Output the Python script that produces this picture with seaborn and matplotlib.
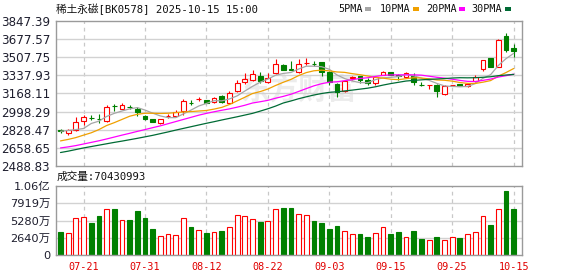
import numpy as np
import pandas as pd
import matplotlib
matplotlib.use("Agg")
import matplotlib.pyplot as plt
import seaborn as sns
from matplotlib.patches import Rectangle

# ---------------- data ----------------
dates = ["07-16", "07-17", "07-18", "07-21", "07-22", "07-23", "07-24", "07-25", "07-28", "07-29",
         "07-30", "07-31", "08-01", "08-04", "08-05", "08-06", "08-07", "08-08", "08-11", "08-12",
         "08-13", "08-14", "08-15", "08-18", "08-19", "08-20", "08-21", "08-22", "08-25", "08-26",
         "08-27", "08-28", "08-29", "09-01", "09-02", "09-03", "09-04", "09-05", "09-08", "09-09",
         "09-10", "09-11", "09-12", "09-15", "09-16", "09-17", "09-18", "09-19", "09-22", "09-23",
         "09-24", "09-25", "09-26", "09-29", "09-30", "10-09", "10-10", "10-13", "10-14", "10-15"]

opens = [2822, 2799, 2830, 2908, 2943, 2931, 2908, 3049, 3026, 3043,
         3023, 2961, 2926, 2889, 2959, 2957, 3001, 3083, 3115, 3107,
         3088, 3141, 3079, 3194, 3275, 3294, 3334, 3272, 3356, 3437,
         3393, 3368, 3451, 3443, 3465, 3371, 3259, 3191, 3312, 3331,
         3290, 3265, 3343, 3368, 3340, 3322, 3328, 3250, 3245, 3250,
         3166, 3249, 3256, 3241, 3281, 3396, 3499, 3421, 3704, 3598]
highs = [2836, 2836, 2948, 2970, 2964, 2979, 3063, 3069, 3076, 3060,
         3045, 2970, 2933, 2929, 2973, 3010, 3116, 3104, 3138, 3110,
         3138, 3150, 3188, 3293, 3356, 3387, 3368, 3356, 3496, 3440,
         3474, 3490, 3499, 3477, 3467, 3381, 3269, 3290, 3331, 3333,
         3312, 3334, 3381, 3371, 3355, 3365, 3359, 3272, 3248, 3256,
         3244, 3251, 3259, 3265, 3343, 3480, 3505, 3679, 3732, 3630]
lows = [2799, 2783, 2814, 2876, 2920, 2892, 2901, 3001, 3020, 3022,
        2954, 2920, 2898, 2886, 2939, 2951, 2964, 3057, 3094, 3076,
        3079, 3080, 3069, 3181, 3259, 3287, 3265, 3265, 3350, 3384,
        3387, 3362, 3437, 3427, 3328, 3250, 3135, 3181, 3296, 3265,
        3250, 3250, 3337, 3340, 3290, 3312, 3244, 3234, 3213, 3132,
        3157, 3237, 3234, 3231, 3275, 3381, 3415, 3421, 3561, 3514]
closes = [2819, 2823, 2901, 2951, 2941, 2929, 3041, 3047, 3060, 3041,
          2992, 2926, 2901, 2929, 2961, 2995, 3100, 3081, 3117, 3082,
          3125, 3088, 3172, 3265, 3303, 3349, 3281, 3318, 3443, 3390,
          3391, 3443, 3453, 3441, 3365, 3272, 3181, 3281, 3325, 3290,
          3268, 3325, 3368, 3343, 3330, 3359, 3272, 3249, 3247, 3188,
          3237, 3250, 3237, 3259, 3322, 3480, 3421, 3670, 3577, 3570]

volumes = [3.55e7, 3.40e7, 5.64e7, 5.79e7, 4.92e7, 5.99e7, 7.01e7, 7.06e7, 5.33e7, 5.38e7,
           6.75e7, 5.69e7, 4.01e7, 2.89e7, 3.20e7, 3.05e7, 5.64e7, 4.32e7, 3.81e7, 3.40e7,
           3.50e7, 3.71e7, 4.26e7, 6.09e7, 5.94e7, 5.48e7, 5.08e7, 5.18e7, 7.01e7, 7.21e7,
           7.21e7, 6.30e7, 6.14e7, 5.23e7, 4.92e7, 4.01e7, 4.47e7, 3.66e7, 3.25e7, 3.25e7,
           2.79e7, 3.40e7, 4.26e7, 3.25e7, 3.55e7, 2.74e7, 3.71e7, 2.49e7, 2.28e7, 2.79e7,
           2.28e7, 2.74e7, 2.64e7, 3.25e7, 3.50e7, 5.94e7, 4.62e7, 7.01e7, 9.80e7, 7.0430993e7]

ma5 = [2814, 2822, 2830, 2840, 2887, 2909, 2953, 2982, 3004, 3024,
       3036, 3013, 2984, 2958, 2942, 2942, 2977, 3013, 3051, 3075,
       3101, 3099, 3117, 3146, 3191, 3235, 3274, 3303, 3339, 3356,
       3365, 3397, 3424, 3424, 3419, 3395, 3342, 3308, 3285, 3270,
       3269, 3298, 3315, 3319, 3327, 3345, 3334, 3311, 3291, 3263,
       3239, 3234, 3232, 3234, 3261, 3310, 3344, 3430, 3494, 3544]
ma10 = [2724, 2738, 2755, 2778, 2800, 2830, 2868, 2895, 2925, 2955,
        2973, 2983, 2983, 2981, 2983, 2989, 2995, 2999, 3004, 3009,
        3022, 3038, 3065, 3099, 3133, 3168, 3186, 3210, 3243, 3273,
        3300, 3336, 3364, 3381, 3387, 3380, 3370, 3366, 3354, 3344,
        3332, 3320, 3312, 3302, 3298, 3307, 3316, 3313, 3305, 3295,
        3292, 3284, 3271, 3263, 3262, 3274, 3289, 3331, 3364, 3402]
ma20 = [2658, 2668, 2680, 2695, 2710, 2725, 2742, 2760, 2778, 2795,
        2813, 2830, 2848, 2865, 2885, 2905, 2925, 2945, 2965, 2982,
        2997, 3011, 3024, 3040, 3058, 3079, 3091, 3104, 3124, 3141,
        3161, 3187, 3214, 3240, 3260, 3274, 3278, 3288, 3298, 3309,
        3316, 3328, 3338, 3342, 3343, 3343, 3343, 3340, 3330, 3320,
        3312, 3302, 3291, 3282, 3280, 3291, 3303, 3322, 3335, 3349]
ma30 = [2615, 2628, 2643, 2658, 2671, 2684, 2697, 2710, 2722, 2735,
        2748, 2762, 2776, 2792, 2808, 2825, 2841, 2857, 2873, 2889,
        2904, 2920, 2935, 2950, 2966, 2982, 3003, 3025, 3050, 3079,
        3098, 3119, 3137, 3154, 3168, 3179, 3184, 3192, 3200, 3209,
        3218, 3231, 3247, 3261, 3273, 3285, 3291, 3296, 3301, 3304,
        3308, 3313, 3316, 3315, 3316, 3320, 3325, 3335, 3341, 3347]

price_ticks = [3847.39, 3677.57, 3507.75, 3337.93, 3168.11, 2998.29, 2828.47, 2658.65, 2488.83]
vol_ticks = [0, 2.64e7, 5.28e7, 7.919e7, 1.056e8]
vol_tick_labels = ["0", "2640万", "5280万", "7919万", "1.06亿"]
xtick_labels = ["07-21", "07-31", "08-12", "08-22", "09-03", "09-15", "09-25", "10-15"]

title_text = "稀土永磁[BK0578] 2025-10-15 15:00"
vol_title = "成交量:70430993"
ma_names = ["5PMA", "10PMA", "20PMA", "30PMA"]
ma_colors = ["#a6a6a6", "#f0a000", "#ff00ff", "#006b35"]

# ---------------- style ----------------
sns.set_theme(style="white")
plt.rcParams["font.family"] = ["DejaVu Sans", "Noto Sans CJK SC"]
UP = "#ff0000"
DOWN = "#008000"
GRID = "#d2d2d2"
SPINE = "#9a9a9a"

W, H = 578, 276
fig = plt.figure(figsize=(W / 100, H / 100), dpi=100)
fig.patch.set_facecolor("white")


def box(l, t, r, b):
    return [l / W, (H - b) / H, (r - l) / W, (b - t) / H]


ax = fig.add_axes(box(55.7, 21, 522, 166))
axv = fig.add_axes(box(55.7, 186, 522, 255.3))

df = pd.DataFrame({"date": dates, "open": opens, "high": highs, "low": lows,
                   "close": closes, "volume": volumes,
                   "MA5": ma5, "MA10": ma10, "MA20": ma20, "MA30": ma30})
df["i"] = np.arange(len(df))
df["up"] = df["close"] >= df["open"]
xt = [dates.index(d) for d in xtick_labels]
XL = (-0.625, 60.09)

for a in (ax, axv):
    a.set_facecolor("white")
    for s in a.spines.values():
        s.set_color(SPINE)
        s.set_linewidth(1.0)
    a.set_xlim(*XL)
    a.set_xticks(xt)
    a.grid(False)
    for xv in xt:
        a.axvline(xv, color="#c8c8c8", lw=0.9, ls=(0, (3, 3)), zorder=0)

# watermark
ax.text(0.52, 0.53, "东方财富", transform=ax.transAxes, ha="center", va="center",
        fontsize=21, color="#ececec", fontweight="bold",
        family=["Noto Sans CJK SC"], zorder=0)

# ---------------- price panel ----------------
ax.set_ylim(price_ticks[-1], price_ticks[0])
ax.set_yticks(price_ticks)
ax.set_yticklabels([f"{v:.2f}" for v in price_ticks], fontsize=8.6, color="#1e1e2e")
for v in price_ticks[1:-1]:
    ax.axhline(v, color=GRID, lw=1.0, zorder=0)
ax.tick_params(axis="y", length=3, width=0.8, color=SPINE, pad=1)
ax.tick_params(axis="x", length=0, labelbottom=False)

bw = 0.62
for _, r in df.iterrows():
    c = UP if r["up"] else DOWN
    lo, hi = min(r["open"], r["close"]), max(r["open"], r["close"])
    h = max(hi - lo, 0.8)
    ax.bar(r["i"], h, bottom=lo, width=bw,
           facecolor="white" if r["up"] else DOWN, edgecolor=c, linewidth=0.8, zorder=2)
    ax.vlines(r["i"], hi, r["high"], color=c, lw=0.8, zorder=2)
    ax.vlines(r["i"], r["low"], lo, color=c, lw=0.8, zorder=2)

for name, col in zip(["MA5", "MA10", "MA20", "MA30"], ma_colors):
    sns.lineplot(data=df, x="i", y=name, color=col, lw=0.9, ax=ax, zorder=3, legend=False)
ax.set_xlabel("")
ax.set_ylabel("")
ax.set_xlim(*XL)

# ---------------- volume panel ----------------
axv.set_ylim(0, vol_ticks[-1])
axv.set_yticks(vol_ticks)
axv.set_yticklabels(vol_tick_labels, fontsize=8.2, color="#1e1e2e")
for v in vol_ticks[1:-1]:
    axv.axhline(v, color=GRID, lw=1.0, zorder=0)
axv.tick_params(axis="y", length=3, width=0.8, color=SPINE, pad=1)
axv.set_xticklabels(xtick_labels, fontsize=7.3, color="#e00000", family=["DejaVu Sans Mono"])
axv.tick_params(axis="x", length=0, pad=5)
for _, r in df.iterrows():
    if r["up"]:
        axv.bar(r["i"], r["volume"], width=bw, facecolor="white", edgecolor=UP, linewidth=0.8, zorder=2)
    else:
        axv.bar(r["i"], r["volume"], width=bw, facecolor=DOWN, edgecolor=DOWN, linewidth=0.8, zorder=2)

# ---------------- texts ----------------
mono_cjk = ["DejaVu Sans Mono", "Noto Sans CJK SC"]
fig.text(56.5 / W, 1 - 9 / H, title_text, fontsize=7.7, family=mono_cjk,
         color="#111111", ha="left", va="center")
fig.text(57 / W, 1 - 176.5 / H, vol_title, fontsize=7.7, family=mono_cjk,
         color="#111111", ha="left", va="center")

leg_text_x = [338.3, 380.0, 425.7, 471.7]
leg_sq_x = [365.3, 413.3, 459.0, 505.0]
for name, col, tx, sx in zip(ma_names, ma_colors, leg_text_x, leg_sq_x):
    fig.text(tx / W, 1 - 9 / H, name, fontsize=7.3, family=["DejaVu Sans Mono"],
             color="#111111", ha="left", va="center")
    fig.add_artist(Rectangle((sx / W, 1 - 10.5 / H), 5.5 / W, 3.2 / H,
                             transform=fig.transFigure, facecolor=col, edgecolor="none"))

fig.savefig("out.png", dpi=100, facecolor="white")
